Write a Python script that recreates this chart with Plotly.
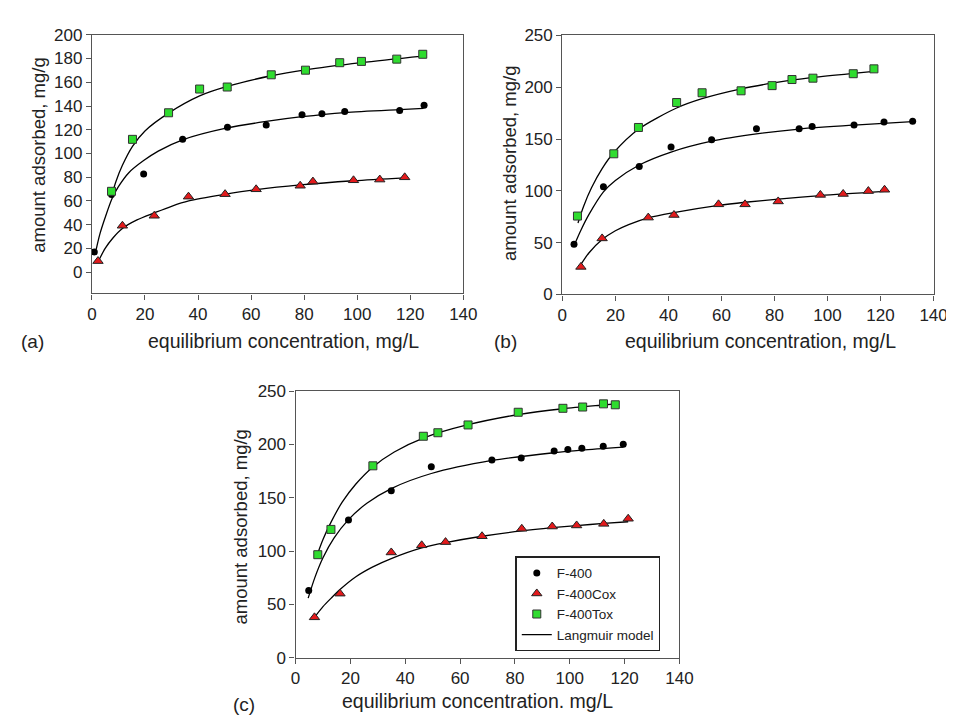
import plotly.graph_objects as go

# ---------------- Panel (a) ----------------
a_f400_x = [0.9, 7.4, 19.5, 34.2, 51.1, 65.7, 79.2, 86.7, 95.3, 116.0, 125.2]
a_f400_y = [17.0, 65.4, 82.6, 111.9, 122.0, 123.9, 132.7, 133.5, 135.4, 136.3, 140.6]
a_cox_x = [2.3, 11.5, 23.5, 36.4, 50.2, 61.9, 78.5, 83.3, 98.6, 108.5, 117.9]
a_cox_y = [9.3, 39.1, 47.5, 63.6, 65.7, 69.8, 72.8, 76.3, 77.4, 78.0, 79.9]
a_tox_x = [7.4, 15.3, 28.9, 40.6, 51.0, 67.6, 80.5, 93.4, 101.6, 114.9, 124.7]
a_tox_y = [68.1, 111.9, 134.3, 154.3, 156.0, 166.3, 170.2, 176.5, 177.6, 179.5, 183.6]

a_f400_fit_x = [1.6, 3, 5, 7.6, 10, 14, 19.5, 25, 34.2, 51, 65.7, 79.2, 95.3, 116, 125]
a_f400_fit_y = [19, 32, 46, 62, 72, 84, 94, 102, 111.5, 121.5, 127, 131, 134.5, 137, 138]
a_cox_fit_x = [2.4, 5, 8, 11.6, 17, 23.6, 30, 36.5, 50, 62, 78.5, 98.6, 118]
a_cox_fit_y = [9, 20, 29, 37, 44, 50, 55.5, 60, 65.5, 69.5, 73.5, 77, 79.5]
a_tox_fit_x = [7.4, 9, 11.5, 15.3, 20, 28.9, 40.6, 51, 67.6, 80.5, 101.6, 124.7]
a_tox_fit_y = [64, 76, 90, 106, 119, 134, 148.5, 156.5, 165.5, 170.5, 176.5, 182]

# ---------------- Panel (b) ----------------
b_f400_x = [4.4, 15.5, 29.0, 41.0, 56.3, 73.2, 89.3, 94.2, 110.0, 121.3, 132.1]
b_f400_y = [48.5, 103.9, 123.6, 142.4, 149.3, 159.9, 159.9, 162.1, 163.7, 166.5, 167.1]
b_cox_x = [7.0, 15.0, 32.4, 42.1, 58.9, 68.9, 81.4, 97.3, 105.9, 115.4, 121.5]
b_cox_y = [26.6, 54.1, 74.2, 76.7, 87.0, 87.0, 89.8, 96.1, 97.0, 99.8, 101.1]
b_tox_x = [5.7, 19.4, 28.7, 43.1, 52.7, 67.4, 79.1, 86.6, 94.5, 109.7, 117.5]
b_tox_y = [75.7, 135.8, 161.2, 185.3, 194.7, 196.6, 201.6, 207.5, 208.8, 213.1, 217.8]

b_f400_fit_x = [4.9, 7, 10, 15.5, 20, 29, 41, 56.3, 73.2, 89.3, 110, 132]
b_f400_fit_y = [50, 62, 77, 99, 110, 125, 137.5, 148, 155, 159.7, 163.5, 166.8]
b_cox_fit_x = [7, 10, 15, 20, 25, 32.4, 42, 58.9, 68.9, 81.4, 97.3, 121.5]
b_cox_fit_y = [29, 40, 53, 61.5, 67.5, 74, 79, 86, 89, 92, 95.5, 99.5]
b_tox_fit_x = [5.9, 8, 11, 15, 19.4, 28.7, 43.1, 52.7, 67.4, 79.1, 94.5, 109.7, 117.5]
b_tox_fit_y = [69, 85, 103, 121.5, 137, 159.5, 180, 189, 198.5, 204, 209.5, 213.5, 215.3]

# ---------------- Panel (c) ----------------
c_f400_x = [4.8, 19.3, 34.9, 49.5, 71.6, 82.3, 94.3, 99.3, 104.4, 112.2, 119.5]
c_f400_y = [63.2, 129.2, 156.6, 179.1, 185.5, 187.3, 194.0, 195.2, 196.4, 198.3, 200.1]
c_cox_x = [6.9, 16.2, 34.9, 46.0, 54.7, 68.0, 82.5, 93.6, 102.5, 112.4, 121.3]
c_cox_y = [38.0, 60.2, 98.8, 105.5, 108.5, 114.0, 121.0, 123.1, 124.1, 125.6, 130.4]
c_tox_x = [8.1, 12.9, 28.2, 46.6, 51.9, 62.9, 81.2, 97.5, 104.7, 112.3, 116.6]
c_tox_y = [96.7, 120.4, 180.0, 207.7, 211.0, 218.3, 230.2, 233.9, 235.1, 238.1, 237.2]

c_f400_fit_x = [4.6, 7, 10, 14, 19.3, 26, 34.9, 49.5, 71.6, 94.3, 104.4, 119.5]
c_f400_fit_y = [56, 75, 93.8, 112.2, 129.6, 144.9, 158.7, 172.8, 185, 192.3, 194.7, 197.5]
c_cox_fit_x = [6.9, 10, 13, 16.2, 22, 28, 34.9, 46, 54.7, 68, 82.5, 93.6, 102.5, 112.4, 121.3]
c_cox_fit_y = [38, 48, 56, 64, 76, 85, 93, 103, 108, 114, 119, 122, 124, 126, 127.6]
c_tox_fit_x = [7.8, 10, 12.9, 17, 22, 28.2, 36, 46.6, 62.9, 81.2, 97.5, 112.3, 116.6]
c_tox_fit_y = [96, 111, 127, 146, 163, 179, 193, 206, 218.5, 228, 233.5, 237, 238]

series_names = ["F-400", "F-400Cox", "F-400Tox"]
fit_name = "Langmuir model"
x_title = "equilibrium concentration, mg/L"
x_title_c = "equilibrium concentration. mg/L"
y_title = "amount adsorbed, mg/g"
panel_labels = ["(a)", "(b)", "(c)"]

FONT = "Arial, 'Liberation Sans', sans-serif"
GREEN = "#2fdc2f"
RED = "#e31a1c"

fig = go.Figure()

panels = [
    ("x", "y", a_f400_x, a_f400_y, a_cox_x, a_cox_y, a_tox_x, a_tox_y,
     a_f400_fit_x, a_f400_fit_y, a_cox_fit_x, a_cox_fit_y, a_tox_fit_x, a_tox_fit_y, False),
    ("x2", "y2", b_f400_x, b_f400_y, b_cox_x, b_cox_y, b_tox_x, b_tox_y,
     b_f400_fit_x, b_f400_fit_y, b_cox_fit_x, b_cox_fit_y, b_tox_fit_x, b_tox_fit_y, False),
    ("x3", "y3", c_f400_x, c_f400_y, c_cox_x, c_cox_y, c_tox_x, c_tox_y,
     c_f400_fit_x, c_f400_fit_y, c_cox_fit_x, c_cox_fit_y, c_tox_fit_x, c_tox_fit_y, True),
]

line_style = dict(color="black", width=1.3, shape="spline", smoothing=0.8)

for (xa, ya, fx, fy, cx, cy, tx, ty, ffx, ffy, cfx, cfy, tfx, tfy, leg) in panels:
    # model lines first
    for i, (lx, ly) in enumerate([(ffx, ffy), (cfx, cfy), (tfx, tfy)]):
        fig.add_trace(go.Scatter(x=lx, y=ly, mode="lines", line=line_style,
                                 name=fit_name, legendrank=4,
                                 showlegend=(leg and i == 0),
                                 xaxis=xa, yaxis=ya, hoverinfo="skip"))
    fig.add_trace(go.Scatter(x=fx, y=fy, mode="markers", name=series_names[0],
                             legendrank=1, showlegend=leg,
                             marker=dict(symbol="circle", size=7, color="black"),
                             xaxis=xa, yaxis=ya))
    fig.add_trace(go.Scatter(x=cx, y=cy, mode="markers", name=series_names[1],
                             legendrank=2, showlegend=leg,
                             marker=dict(symbol="triangle-up", size=9, color=RED,
                                         line=dict(color="#222222", width=1)),
                             xaxis=xa, yaxis=ya))
    fig.add_trace(go.Scatter(x=tx, y=ty, mode="markers", name=series_names[2],
                             legendrank=3, showlegend=leg,
                             marker=dict(symbol="square", size=8, color=GREEN,
                                         line=dict(color="#333333", width=1)),
                             xaxis=xa, yaxis=ya))

W, H = 954, 718

def dx(p):
    return p / W

def dy(p):
    return 1 - p / H

axis_common = dict(showline=True, linecolor="#555555", linewidth=1.3, mirror=True,
                   ticks="outside", ticklen=5, tickcolor="#555555", tickwidth=1.2,
                   showgrid=False, zeroline=False,
                   tickfont=dict(family=FONT, size=17, color="#222222"))

fig.update_layout(
    width=W, height=H, margin=dict(l=0, r=0, t=0, b=0),
    paper_bgcolor="white", plot_bgcolor="white",
    font=dict(family=FONT, color="#222222"),
    xaxis=dict(domain=[dx(80.5), dx(459.5)], range=[0, 140], tickvals=list(range(0, 141, 20)),
               anchor="y", **axis_common),
    yaxis=dict(domain=[dy(284), dy(18.3)], range=[-18, 200], tickvals=list(range(0, 201, 20)),
               anchor="x", **axis_common),
    xaxis2=dict(domain=[dx(560.5), dx(939.3)], range=[0, 140], tickvals=list(range(0, 141, 20)),
                anchor="y2", **axis_common),
    yaxis2=dict(domain=[dy(285), dy(19)], range=[0, 250], tickvals=list(range(0, 251, 50)),
                anchor="x2", **axis_common),
    xaxis3=dict(domain=[dx(288.3), dx(680)], range=[0, 140], tickvals=list(range(0, 141, 20)),
                anchor="y3", **axis_common),
    yaxis3=dict(domain=[dy(658.3), dy(384.3)], range=[0, 250], tickvals=list(range(0, 251, 50)),
                anchor="x3", **axis_common),
    legend=dict(x=dx(512.7), y=dy(554), xanchor="left", yanchor="top",
                bordercolor="#222222", borderwidth=1.3, bgcolor="white",
                font=dict(family=FONT, size=13.5, color="#222222"),
                tracegroupgap=0, itemwidth=30),
    showlegend=True,
)

ann = []
def add_text(txt, x, y, size, angle=0):
    ann.append(dict(text=txt, x=dx(x), y=dy(y), xref="paper", yref="paper",
                    showarrow=False, textangle=angle, xanchor="center", yanchor="middle",
                    font=dict(family=FONT, size=size, color="#222222")))

add_text(y_title, 26, 142, 18.5, -90)
add_text(y_title, 506, 150, 18.5, -90)
add_text(y_title, 232, 524, 18.5, -90)
add_text(x_title, 276, 333, 19.5)
add_text(x_title, 763, 333, 19.5)
add_text(x_title_c, 474, 703, 19.5)
add_text(panel_labels[0], 20, 333, 19)
add_text(panel_labels[1], 502, 333, 19)
add_text(panel_labels[2], 236, 706, 19)
fig.update_layout(annotations=ann)

fig.write_html("out.html")
